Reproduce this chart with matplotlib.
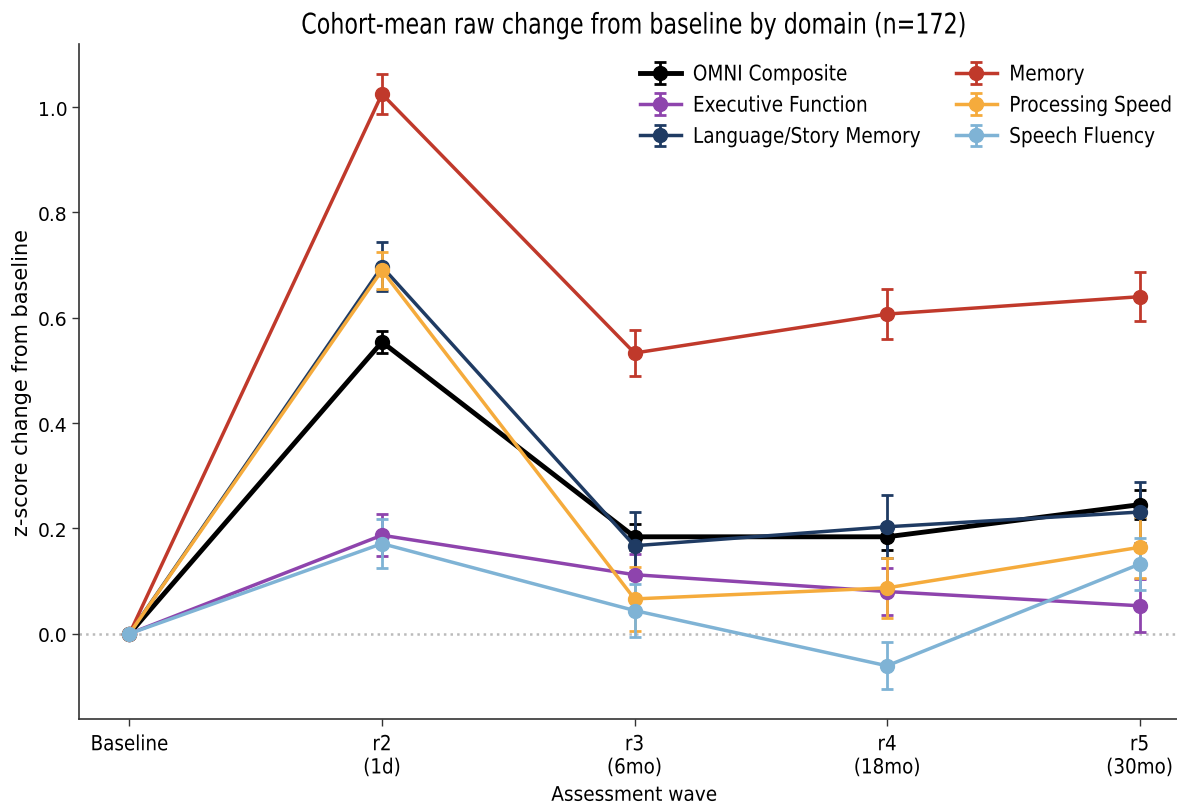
import numpy as np
import matplotlib
matplotlib.use("Agg")
import matplotlib.pyplot as plt
from matplotlib.patheffects import AbstractPathEffect
from matplotlib.transforms import Affine2D

waves = ["Baseline", "r2\n(1d)", "r3\n(6mo)", "r4\n(18mo)", "r5\n(30mo)"]

omni_mean = [0.0, 0.554, 0.184, 0.184, 0.245]
omni_err = [0.0, 0.021, 0.025, 0.025, 0.027]

memory_mean = [0.0, 1.025, 0.533, 0.607, 0.640]
memory_err = [0.0, 0.038, 0.043, 0.047, 0.047]

exec_mean = [0.0, 0.187, 0.112, 0.080, 0.053]
exec_err = [0.0, 0.040, 0.040, 0.045, 0.050]

speed_mean = [0.0, 0.690, 0.066, 0.087, 0.164]
speed_err = [0.0, 0.035, 0.060, 0.057, 0.058]

language_mean = [0.0, 0.697, 0.167, 0.203, 0.231]
language_err = [0.0, 0.046, 0.064, 0.060, 0.058]

fluency_mean = [0.0, 0.171, 0.044, -0.061, 0.132]
fluency_err = [0.0, 0.047, 0.050, 0.045, 0.050]


class Squeeze(AbstractPathEffect):
    """Narrow the glyphs horizontally about the line centre (or left edge)."""

    def __init__(self, sx, align="center"):
        super().__init__()
        self.sx = sx
        self.align = align

    def draw_path(self, renderer, gc, tpath, affine, rgbFace=None):
        ext = tpath.get_extents(affine)
        cx = (ext.x0 + ext.x1) / 2 if self.align == "center" else ext.x0
        squeeze = Affine2D().translate(-cx, 0).scale(self.sx, 1).translate(cx, 0)
        renderer.draw_path(gc, tpath, affine + squeeze, rgbFace)


plt.rcParams["font.family"] = "DejaVu Sans"

fig = plt.figure(figsize=(11.77, 8.03), dpi=100)
ax = fig.add_axes([0.0671, 0.1034, 0.944, 0.8406])

x = np.arange(len(waves))

series = [
    ("OMNI Composite", omni_mean, omni_err, "#000000", 3.5),
    ("Executive Function", exec_mean, exec_err, "#8e44ad", 2.5),
    ("Language/Story Memory", language_mean, language_err, "#1f3b63", 2.5),
    ("Memory", memory_mean, memory_err, "#c0392b", 2.5),
    ("Processing Speed", speed_mean, speed_err, "#f5ab3c", 2.5),
    ("Speech Fluency", fluency_mean, fluency_err, "#7fb3d5", 2.5),
]

ax.axhline(0, color="#bbbbbb", linestyle=":", linewidth=1.8, zorder=1)

for name, mean, err, color, lw in series:
    ax.errorbar(x, mean, yerr=err, label=name, color=color, linewidth=lw,
                marker="o", markersize=10, capsize=4, capthick=2,
                elinewidth=2, zorder=3)

ax.set_xlim(-0.2, 4.2)
ax.set_ylim(-0.162, 1.12)
ax.set_xticks(x)
ax.set_xticklabels(waves, fontsize=15)
for lbl in ax.get_xticklabels():
    lbl.set_path_effects([Squeeze(0.88)])
ax.set_yticks([0.0, 0.2, 0.4, 0.6, 0.8, 1.0])
ax.tick_params(axis="y", labelsize=13.5)
ax.tick_params(axis="x", pad=6)
ax.tick_params(axis="both", length=5, width=1, color="#333333")

ax.spines["top"].set_visible(False)
ax.spines["right"].set_visible(False)
for side in ("left", "bottom"):
    ax.spines[side].set_color("#333333")
    ax.spines[side].set_linewidth(1.2)

ax.set_ylabel("z-score change from baseline", fontsize=15)
xl = ax.set_xlabel("Assessment wave", fontsize=14.5, labelpad=6)
xl.set_path_effects([Squeeze(0.92)])
tt = ax.set_title("Cohort-mean raw change from baseline by domain (n=172)",
                  fontsize=20.5, pad=7.5)
tt.set_path_effects([Squeeze(0.78)])

leg = fig.legend(*ax.get_legend_handles_labels(), ncol=2, frameon=False,
                 loc="upper left", bbox_to_anchor=(0.5435, 0.9185),
                 bbox_transform=fig.transFigure, fontsize=15.5,
                 handlelength=1.9, handletextpad=0.56, columnspacing=-0.07,
                 labelspacing=0.52, borderpad=0, borderaxespad=0)
for txt in leg.get_texts():
    txt.set_path_effects([Squeeze(0.86, align="left")])

fig.savefig("out.png", dpi=100)
